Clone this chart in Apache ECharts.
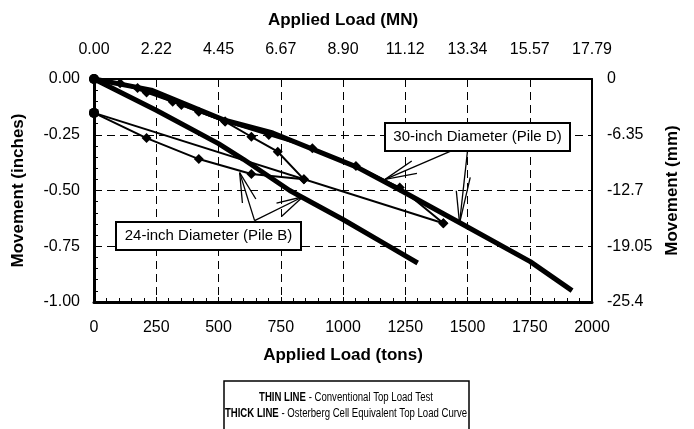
<!DOCTYPE html>
<html><head><meta charset="utf-8">
<script src="https://cdn.jsdelivr.net/npm/echarts@6/dist/echarts.min.js"></script>
<style>html,body{margin:0;padding:0;background:#fff}#c{width:694px;height:429px}</style>
</head><body><div id="c"></div>
<script>
// ---- data (tons, inches) ----
const pileBLoadTons = [0, 105, 211, 316, 421, 527, 632, 738, 843];
const pileBLoadIn   = [0, -0.019, -0.061, -0.102, -0.147, -0.191, -0.259, -0.326, -0.450];
const pileBUnloadTons = [843, 632, 421, 211, 0];
const pileBUnloadIn   = [-0.450, -0.426, -0.359, -0.265, -0.152];
const pileDLoadTons = [0, 175, 351, 526, 702, 877, 1052, 1228, 1403];
const pileDLoadIn   = [0, -0.040, -0.117, -0.191, -0.251, -0.311, -0.390, -0.487, -0.647];
const pileDUnloadTons = [1403, 0];
const pileDUnloadIn   = [-0.647, -0.152];
const pileBOcellTons = [0, 250, 500, 600, 786, 1000, 1189, 1300];
const pileBOcellIn   = [0, -0.140, -0.290, -0.360, -0.500, -0.630, -0.753, -0.825];
const pileDOcellTons = [0, 230, 525, 718, 1056, 1229, 1471, 1752, 1920];
const pileDOcellIn   = [0, -0.050, -0.185, -0.242, -0.395, -0.498, -0.646, -0.819, -0.949];

// ---- tick labels ----
const topTickLabels = ['0.00', '2.22', '4.45', '6.67', '8.90', '11.12', '13.34', '15.57', '17.79'];
const rightTickLabels = ['0', '-6.35', '-12.7', '-19.05', '-25.4'];

// ---- annotation arrows: [tail, tip, barb1, barb2] in (tons, inches) ----
const arrowsB = [
  [[645, -0.635], [585, -0.420], [596, -0.556], [650, -0.538]],
  [[645, -0.635], [839, -0.528], [733, -0.557], [753, -0.617]]
];
const arrowsD = [
  [[1435, -0.322], [1169, -0.450], [1276, -0.368], [1297, -0.423]],
  [[1500, -0.322], [1468, -0.647], [1455, -0.501], [1511, -0.441]]
];

const zip = (a, b) => a.map((v, i) => [v, b[i]]);
const FONT = '"Liberation Sans", Arial, sans-serif';

const arrowSegs = [];
[...arrowsB, ...arrowsD].forEach(a => {
  arrowSegs.push([{coord: a[0]}, {coord: a[1]}]);
  arrowSegs.push([{coord: a[1]}, {coord: a[2]}]);
  arrowSegs.push([{coord: a[1]}, {coord: a[3]}]);
});

const thin = (name, t, v) => ({
  name, type: 'line', data: zip(t, v),
  lineStyle: {color: '#000', width: 2},
  itemStyle: {color: '#000'},
  symbol: (val) => val[0] === 0 ? 'circle' : 'diamond',
  symbolSize: 10, showSymbol: true, silent: true, z: 3
});
const thick = (name, t, v) => ({
  name, type: 'line', data: zip(t, v),
  lineStyle: {color: '#000', width: 5},
  symbol: 'none', silent: true, z: 2
});

const titleStyle = {fontFamily: FONT, fontSize: 17, fontWeight: 'bold', color: '#000'};
const tickStyle = {fontFamily: FONT, fontSize: 16, color: '#000'};

const chart = echarts.init(document.getElementById('c'), null, {renderer: 'canvas'});
chart.setOption({
  animation: false,
  backgroundColor: '#fff',
  grid: {left: 94, right: 102, top: 79, bottom: 127},
  xAxis: [{
    type: 'value', position: 'bottom', min: 0, max: 2000, interval: 250,
    name: 'Applied Load (tons)', nameLocation: 'middle', nameGap: 45,
    nameTextStyle: titleStyle,
    axisLine: {show: true, onZero: false, lineStyle: {color: '#000', width: 3}},
    axisTick: {show: true, inside: true, length: 5, lineStyle: {color: '#000', width: 1}},
    minorTick: {show: true, splitNumber: 5, length: 4, lineStyle: {color: '#000', width: 1}},
    axisLabel: Object.assign({margin: 18, formatter: v => String(v)}, tickStyle),
    splitLine: {show: true, lineStyle: {color: '#000', width: 1, type: [8, 5]}}
  }, {
    type: 'value', position: 'top', min: 0, max: 2000, interval: 250,
    name: 'Applied Load (MN)', nameLocation: 'middle', nameGap: 50,
    nameTextStyle: titleStyle,
    axisLine: {show: true, onZero: false, lineStyle: {color: '#000', width: 2}},
    axisTick: {show: false},
    axisLabel: Object.assign({margin: 21, formatter: v => topTickLabels[Math.round(v / 250)]}, tickStyle),
    splitLine: {show: false}
  }],
  yAxis: [{
    type: 'value', position: 'left', min: -1, max: 0, interval: 0.25,
    name: 'Movement (inches)', nameLocation: 'middle', nameGap: 67,
    nameTextStyle: titleStyle,
    axisLine: {show: true, onZero: false, lineStyle: {color: '#000', width: 3}},
    axisTick: {show: true, inside: true, length: 5, lineStyle: {color: '#000', width: 1}},
    minorTick: {show: true, splitNumber: 5, length: 4, lineStyle: {color: '#000', width: 1}},
    axisLabel: Object.assign({margin: 14, formatter: v => v.toFixed(2)}, tickStyle),
    splitLine: {show: true, lineStyle: {color: '#000', width: 1, type: [8, 5]}}
  }, {
    type: 'value', position: 'right', min: -25.4, max: 0, interval: 6.35,
    name: 'Movement (mm)', nameLocation: 'middle', nameGap: 72,
    nameTextStyle: titleStyle,
    axisLine: {show: true, onZero: false, lineStyle: {color: '#000', width: 2}},
    axisTick: {show: false},
    axisLabel: Object.assign({margin: 15, showMinLabel: true, showMaxLabel: true,
      formatter: v => rightTickLabels[Math.round(-v / 6.35)]}, tickStyle),
    splitLine: {show: false}
  }],
  series: [
    thick('Pile B O-cell equivalent', pileBOcellTons, pileBOcellIn),
    thick('Pile D O-cell equivalent', pileDOcellTons, pileDOcellIn),
    thin('Pile B load', pileBLoadTons, pileBLoadIn),
    thin('Pile B unload', pileBUnloadTons, pileBUnloadIn),
    thin('Pile D load', pileDLoadTons, pileDLoadIn),
    Object.assign(thin('Pile D unload', pileDUnloadTons, pileDUnloadIn), {
      markLine: {
        silent: true, symbol: ['none', 'none'], label: {show: false},
        lineStyle: {color: '#000', width: 1.3, type: 'solid'},
        data: arrowSegs
      }
    })
  ],
  graphic: [
    {type: 'rect', z: 100, shape: {x: 116, y: 222, width: 185, height: 28},
      style: {fill: '#fff', stroke: '#000', lineWidth: 2}},
    {type: 'text', z: 101, x: 208.5, y: 236,
      style: {text: '24-inch Diameter (Pile B)', font: '15px ' + FONT, fill: '#000', align: 'center', verticalAlign: 'middle'}},
    {type: 'rect', z: 100, shape: {x: 385, y: 123, width: 185, height: 28},
      style: {fill: '#fff', stroke: '#000', lineWidth: 2}},
    {type: 'text', z: 101, x: 477.5, y: 137,
      style: {text: '30-inch Diameter (Pile D)', font: '15px ' + FONT, fill: '#000', align: 'center', verticalAlign: 'middle'}},
    {type: 'rect', z: 100, shape: {x: 224, y: 381, width: 245, height: 60},
      style: {fill: '#fff', stroke: '#000', lineWidth: 1.5}},
    {type: 'text', z: 101, x: 346, y: 398, scaleX: 0.8, style: {
      text: '{b|THIN LINE} - Conventional Top Load Test',
      font: '12px ' + FONT, fill: '#000', align: 'center', verticalAlign: 'middle',
      rich: {b: {fontWeight: 'bold', fontFamily: FONT, fontSize: 12}}}},
    {type: 'text', z: 101, x: 346, y: 414, scaleX: 0.8, style: {
      text: '{b|THICK LINE} - Osterberg Cell Equivalent Top Load Curve',
      font: '12px ' + FONT, fill: '#000', align: 'center', verticalAlign: 'middle',
      rich: {b: {fontWeight: 'bold', fontFamily: FONT, fontSize: 12}}}}
  ]
});
</script></body></html>
